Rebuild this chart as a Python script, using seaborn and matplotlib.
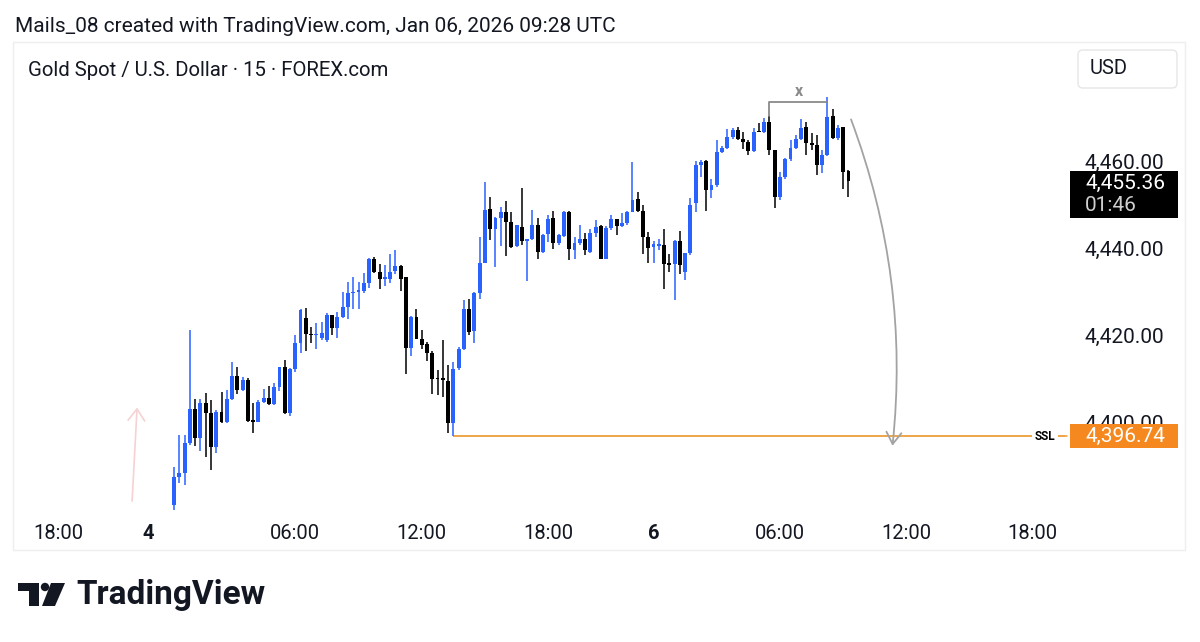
import numpy as np
import pandas as pd
import matplotlib.pyplot as plt
import seaborn as sns
from matplotlib.patches import Polygon, Circle, FancyArrowPatch, Rectangle, FancyBboxPatch

# 15 min candles, XAUUSD
opens = [4380.9, 4387.4, 4388.2, 4395.1, 4403.1, 4396.3, 4404.3, 4402.1, 4394.3, 4402.4,
         4400.1, 4405.4, 4410.6, 4407.5, 4409.7, 4400.3, 4400.1, 4404.7, 4405.6, 4404.1,
         4408.1, 4412.6, 4402.0, 4412.3, 4418.2, 4424.0, 4420.2, 4420.0, 4419.4, 4418.9,
         4424.6, 4421.7, 4424.2, 4426.5, 4429.6, 4430.0, 4430.1, 4432.1, 4437.6, 4434.6,
         4433.0, 4432.8, 4434.7, 4436.0, 4433.4, 4417.1, 4424.2, 4419.2, 4417.9, 4415.8,
         4410.0, 4410.0, 4409.4, 4399.7, 4412.4, 4416.9, 4426.1, 4420.9, 4429.6, 4436.7,
         4448.9, 4444.4, 4447.0, 4448.2, 4446.0, 4440.5, 4444.9, 4441.6, 4442.2, 4445.3,
         4439.2, 4443.2, 4447.0, 4441.1, 4442.8, 4448.2, 4439.5, 4441.3, 4442.2, 4439.2,
         4443.4, 4445.1, 4437.6, 4444.7, 4446.7, 4445.1, 4445.7, 4448.3, 4451.3, 4448.5,
         4442.6, 4440.3, 4440.5, 4440.7, 4436.5, 4436.3, 4441.6, 4434.5, 4438.8, 4450.3,
         4459.1, 4460.0, 4453.3, 4454.5, 4462.0, 4463.1, 4465.6, 4467.1, 4465.2, 4464.3,
         4462.3, 4466.7, 4466.6, 4469.0, 4462.5, 4451.8, 4456.4, 4460.5, 4463.1, 4465.2,
         4467.9, 4464.1, 4463.8, 4459.1, 4461.4, 4470.4, 4465.4, 4467.9, 4457.7]
highs = [4389.7, 4397.0, 4397.0, 4421.1, 4405.3, 4405.3, 4406.7, 4405.1, 4402.9, 4407.0,
         4407.4, 4413.9, 4412.7, 4410.4, 4410.1, 4404.3, 4405.1, 4407.7, 4408.3, 4408.9,
         4412.7, 4414.4, 4412.5, 4420.0, 4426.1, 4426.3, 4421.9, 4422.7, 4423.1, 4425.0,
         4424.6, 4425.4, 4430.0, 4432.3, 4433.4, 4432.3, 4434.2, 4437.8, 4438.0, 4436.3,
         4436.1, 4438.6, 4439.5, 4436.1, 4433.4, 4424.4, 4425.9, 4421.1, 4418.5, 4416.3,
         4412.0, 4418.9, 4413.1, 4413.9, 4417.3, 4428.0, 4428.3, 4430.0, 4442.6, 4455.2,
         4451.8, 4447.2, 4449.5, 4450.8, 4448.2, 4445.4, 4453.9, 4442.2, 4448.7, 4447.0,
         4443.2, 4447.7, 4448.5, 4443.3, 4448.5, 4448.5, 4442.6, 4445.3, 4443.4, 4444.4,
         4446.4, 4445.3, 4445.1, 4447.6, 4446.7, 4448.0, 4448.5, 4459.7, 4453.0, 4449.9,
         4443.7, 4441.6, 4442.1, 4444.4, 4438.6, 4441.8, 4443.9, 4439.0, 4451.6, 4460.0,
         4460.2, 4460.2, 4456.0, 4464.8, 4463.5, 4467.5, 4467.7, 4467.9, 4466.7, 4464.8,
         4467.7, 4468.7, 4470.0, 4470.3, 4462.5, 4457.5, 4460.8, 4464.8, 4466.1, 4469.8,
         4469.0, 4466.4, 4466.0, 4462.5, 4474.8, 4472.0, 4468.4, 4467.9, 4457.9]
lows = [4379.5, 4385.9, 4385.5, 4394.7, 4394.5, 4393.4, 4391.9, 4389.0, 4392.8, 4399.7,
        4399.9, 4405.1, 4406.4, 4407.2, 4400.1, 4397.5, 4400.0, 4404.4, 4403.9, 4403.9,
        4407.2, 4401.8, 4401.4, 4411.6, 4415.8, 4416.3, 4418.1, 4416.8, 4418.9, 4418.5,
        4420.0, 4419.4, 4424.0, 4423.7, 4426.1, 4426.1, 4429.6, 4430.9, 4434.4, 4430.7,
        4431.3, 4432.1, 4434.0, 4430.1, 4411.0, 4415.2, 4419.2, 4416.9, 4414.0, 4406.4,
        4406.2, 4405.8, 4397.4, 4396.74, 4412.0, 4416.6, 4420.0, 4418.1, 4428.3, 4436.5,
        4441.8, 4435.7, 4440.5, 4438.2, 4440.1, 4440.3, 4440.7, 4432.4, 4441.8, 4437.6,
        4439.0, 4441.4, 4439.8, 4440.7, 4442.6, 4437.2, 4437.6, 4440.7, 4438.4, 4438.8,
        4442.6, 4437.5, 4437.5, 4444.1, 4443.0, 4444.9, 4445.3, 4448.2, 4448.2, 4438.6,
        4436.5, 4436.5, 4439.5, 4430.7, 4434.5, 4428.0, 4434.0, 4432.6, 4438.4, 4448.3,
        4456.4, 4448.5, 4451.6, 4454.1, 4461.8, 4462.8, 4465.2, 4464.8, 4462.8, 4461.5,
        4462.1, 4466.6, 4466.4, 4461.5, 4449.3, 4451.0, 4455.9, 4460.0, 4462.8, 4464.8,
        4461.4, 4462.5, 4456.9, 4457.2, 4461.2, 4465.1, 4464.8, 4453.6, 4451.8]
closes = [4387.4, 4388.2, 4395.1, 4403.1, 4396.3, 4404.3, 4402.1, 4394.3, 4402.4, 4400.1,
          4405.4, 4410.6, 4407.5, 4409.7, 4400.3, 4400.1, 4404.7, 4405.6, 4404.1, 4408.1,
          4412.6, 4402.0, 4412.3, 4418.2, 4425.7, 4420.2, 4420.0, 4420.2, 4420.4, 4424.6,
          4421.7, 4424.2, 4426.5, 4429.6, 4430.0, 4430.3, 4432.1, 4437.5, 4434.6, 4433.0,
          4433.2, 4434.6, 4436.0, 4433.0, 4417.1, 4424.2, 4419.2, 4417.7, 4415.8, 4410.0,
          4409.9, 4409.8, 4399.7, 4412.2, 4416.9, 4426.1, 4420.8, 4429.6, 4436.5, 4448.7,
          4444.5, 4447.0, 4448.2, 4446.0, 4440.3, 4445.3, 4441.6, 4442.1, 4445.3, 4439.2,
          4443.0, 4446.8, 4441.1, 4443.0, 4448.2, 4439.8, 4441.3, 4442.2, 4439.5, 4443.4,
          4444.9, 4437.6, 4444.7, 4446.7, 4445.1, 4445.7, 4448.3, 4451.0, 4448.5, 4442.6,
          4440.1, 4440.9, 4440.7, 4436.3, 4436.1, 4441.6, 4436.1, 4438.8, 4450.0, 4459.1,
          4459.7, 4453.3, 4454.5, 4462.0, 4463.1, 4465.6, 4467.1, 4465.2, 4464.3, 4462.3,
          4466.7, 4466.6, 4469.0, 4462.5, 4451.8, 4456.4, 4460.5, 4463.1, 4465.2, 4467.7,
          4464.1, 4463.7, 4459.1, 4461.4, 4470.2, 4465.4, 4467.7, 4457.4, 4455.36]

time_labels = ["18:00", "4", "06:00", "12:00", "18:00", "6", "06:00", "12:00", "18:00"]
time_bars = [-22, -5, 23, 47, 71, 91, 115, 139, 163]
price_ticks = [4400, 4420, 4440, 4460]

ssl_price = 4396.74
ssl_bar = 53
last_price = 4455.36
countdown = "01:46"
bracket_bars = [113, 124]
bracket_level = 4473.7

BLUE = "#2962ff"
BLACK = "#000000"
ORANGE = "#f5891f"
SSL_LINE = "#eea547"
TXT = "#131722"

df = pd.DataFrame({"open": opens, "high": highs, "low": lows, "close": closes})
df["up"] = df["close"] >= df["open"]

sns.set_theme(style="white")
plt.rcParams["font.family"] = ["Roboto", "DejaVu Sans"]

fig = plt.figure(figsize=(12, 6.42), dpi=100)
fig.patch.set_facecolor("white")
ax = fig.add_axes([15 / 1200, 1 - 510 / 642, 1050 / 1200, 468 / 642])
ax.set_xlim(-30.2, 169.1)
ax.set_ylim(4379.8, 4487.4)
for s in ax.spines.values():
    s.set_visible(False)

colors = np.where(df["up"], BLUE, BLACK)
ax.vlines(df.index, df["low"], df["high"], colors=colors, lw=1.1, zorder=3)
body = (df["close"] - df["open"]).abs().clip(lower=0.35)
ax.bar(df.index, body, bottom=np.minimum(df["open"], df["close"]),
       width=0.74, color=colors, linewidth=0, zorder=4)

# SSL level from the swing low
ax.hlines(ssl_price, ssl_bar, 169.1, color=SSL_LINE, lw=1.4, zorder=2)

# range bracket over the double top
b0, b1 = bracket_bars
ax.plot([b0, b0, b1], [df["high"][b0], bracket_level, bracket_level],
        color="#8a8a8a", lw=1.3, zorder=5)
ax.text((b0 + b1) / 2, bracket_level + 0.6, "x", color="#8a8a8a",
        fontsize=11.5, fontweight="bold", ha="center", va="bottom")

# projected move down to SSL
ax.add_patch(FancyArrowPatch((128.3, 4470.2), (136.3, ssl_price - 2.8),
                             connectionstyle="arc3,rad=-0.12",
                             arrowstyle="->,head_length=0.7,head_width=0.45",
                             mutation_scale=12, color="#a3a3a3", lw=1.3, zorder=6))
ax.add_patch(FancyArrowPatch((-8.0, 4381.2), (-7.0, 4404.0),
                             arrowstyle="->,head_length=0.7,head_width=0.5",
                             mutation_scale=12, color="#f6d2d2", lw=1.2, zorder=6))

ax.yaxis.tick_right()
ax.set_yticks(price_ticks)
ax.set_yticklabels([f"{p:,.2f}" for p in price_ticks])
ax.tick_params(axis="y", length=0, pad=14, labelsize=15, labelcolor=TXT)
ax.set_xticks(time_bars)
ax.set_xticklabels(time_labels)
ax.tick_params(axis="x", length=0, pad=10, labelsize=14.5, labelcolor=TXT)
for lab in ax.get_xticklabels():
    if lab.get_text().isdigit():
        lab.set_fontweight("bold")
ax.grid(False)

# overlay in pixel coordinates for the TradingView chrome
ov = fig.add_axes([0, 0, 1, 1], zorder=5)
ov.set_xlim(0, 1200)
ov.set_ylim(642, 0)
ov.axis("off")


def to_px(price):
    return 642 - ax.transData.transform((0, price))[1]


frame = "#eeeeee"
ov.plot([13, 1185, 1185, 13, 13], [42, 42, 550, 550, 42], color=frame, lw=1)

ov.text(15, 27, "Mails_08 created with TradingView.com, Jan 06, 2026 09:28 UTC",
        fontsize=15, color=TXT, va="center")
ov.text(28, 70, "Gold Spot / U.S. Dollar · 15 · FOREX.com",
        fontsize=14.7, color=TXT, va="center")

ov.add_patch(FancyBboxPatch((1078, 50), 99, 38, boxstyle="round,pad=0,rounding_size=5",
                            fc="white", ec="#e6e6e6", lw=1))
ov.text(1090, 69, "USD", fontsize=14.5, color=TXT, va="center")

y_last = to_px(last_price)
ov.add_patch(Rectangle((1070, y_last - 10), 108, 47, fc=BLACK, ec="none"))
ov.text(1085, y_last + 2, f"{last_price:,.2f}", color="white", fontsize=15, va="center")
ov.text(1085, y_last + 24, countdown, color="#cfcfcf", fontsize=15, va="center")

y_ssl = to_px(ssl_price)
ov.add_patch(Rectangle((1070, y_ssl - 12), 108, 24, fc=ORANGE, ec="none"))
ov.text(1085, y_ssl, f"{ssl_price:,.2f}", color="white", fontsize=15, va="center")
ov.text(1045, y_ssl, "SSL", fontsize=8.5, fontweight="bold", color=BLACK,
        ha="center", va="center",
        bbox=dict(boxstyle="square,pad=0.25", fc="white", ec="none"))
ov.plot([1061, 1067], [y_ssl, y_ssl], color=SSL_LINE, lw=1.2)

# TradingView logo
ov.add_patch(Polygon([(18, 583), (38.5, 583), (38.5, 606), (28.5, 606), (28.5, 591), (18, 591)],
                     closed=True, fc=TXT, ec="none"))
ov.add_patch(Circle((45, 587), 4.2, fc=TXT, ec="none"))
ov.add_patch(Polygon([(51, 583), (65, 583), (55, 606), (42, 606)], closed=True, fc=TXT, ec="none"))
ov.text(76, 595, "TradingView", fontsize=24, fontweight="bold", color=TXT, va="center")

fig.savefig("out.png", dpi=100)
